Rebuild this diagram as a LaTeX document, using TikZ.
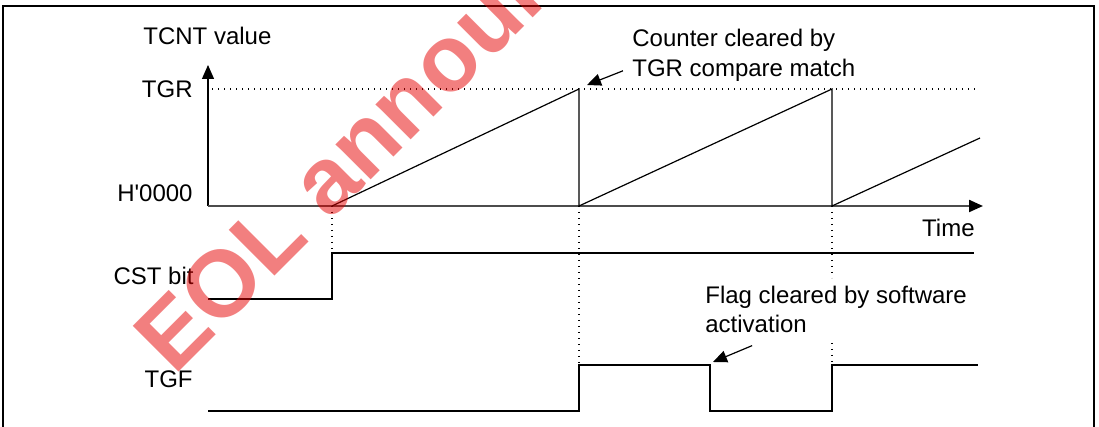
\documentclass[tikz,border=0pt]{standalone}
\usepackage{fontspec}
\setmainfont{Liberation Sans}
\usetikzlibrary{arrows.meta}

\tikzset{
  wave/.style={line width=0.6pt},
  guide/.style={line width=0.6pt, dash pattern=on 0.6pt off 2.4pt},
  lbl/.style={inner sep=0pt, font=\fontsize{12}{14}\selectfont},
  tip/.style={-{Triangle[length=7pt,width=6pt,color=black]}},
}

\begin{document}
\begin{tikzpicture}[x=0.5pt, y=-0.5pt]
		\useasboundingbox (0,0) rectangle (1099,427);
		% Рамка
		\draw[line width=0.7pt] (3,427) -- (3,6) -- (1094,6) -- (1094,427);
		
		% Оси
		\draw[wave, tip] (208,206) -- (208,65);
		\draw[line width=1.1pt, black!70, tip] (208,206) -- (983,206);
		\draw[guide] (212,89) -- (977,89);
		
		\node[lbl, anchor=base west] (tcnt) at (143,45) {TCNT value};
		\node[lbl, anchor=base east] (tgr) at (193,98) {TGR};
		\node[lbl, anchor=base east] (zero) at (193,202) {H\textquotesingle 0000};
		\node[lbl, anchor=base east] (cst) at (194,285) {CST bit};
		\node[lbl, anchor=base east] (tgf) at (193,388) {TGF};
		\node[lbl, anchor=base east] (time) at (975,237) {Time};
		
		% Счетчик
		\draw[wave] (332,206) -- (579,89) -- (579,206) -- (832,89) -- (832,206) -- (980,138);
		
		% CST и TGF
		\draw[wave] (208,299) -- (332,299) -- (332,253) -- (974,253);
		\draw[wave] (208,411) -- (579,411) -- (579,365) -- (710,365) -- (710,411)
			-- (832,411) -- (832,365) -- (978,365);
		
		\draw[guide] (332,206) -- (332,253);
		\draw[guide] (579,206) -- (579,365);
		\draw[guide] (832,206) -- (832,278);
		\draw[guide] (832,343) -- (832,365);
		
		% Пояснения
		\node[lbl, anchor=base west] (cnt1) at (632,47) {Counter cleared by};
		\node[lbl, anchor=base west] (cnt2) at (632,77) {TGR compare match};
		\coordinate (cnttip) at (587,85);
		\draw[wave, tip] ([xshift=-4.5pt]cnt2.west) -- (cnttip);
		
		\node[lbl, anchor=base west] (flag1) at (705,304) {Flag cleared by software};
		\node[lbl, anchor=base west] (flag2) at (705,333) {activation};
		\coordinate (flagtip) at (713,362);
		\draw[wave, tip] ([shift={(-2pt,-6pt)}]flag2.south) -- (flagtip);
		
		% EOL
		\begin{scope}
			\clip (0,0) rectangle (1099,427);
			\node[inner sep=0pt, rotate=45, anchor=base west, text=red!90!black, opacity=0.5,
				font=\fontsize{47}{47}\selectfont\bfseries] (eol) at (174,377) {EOL announced};
		\end{scope}
	\end{tikzpicture}
\end{document}
